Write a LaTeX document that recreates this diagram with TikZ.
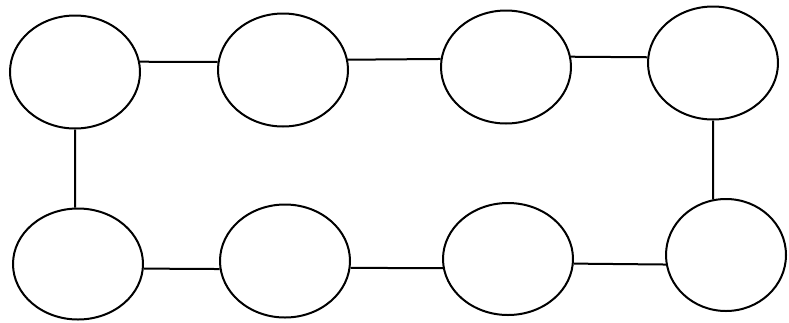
\documentclass[tikz,border=0pt]{standalone}
\usetikzlibrary{shapes.geometric}
\begin{document}
\begin{tikzpicture}[x=1pt,y=-1pt,
  oval/.style={draw,ellipse,line width=2pt,inner sep=0pt,minimum width=130pt,minimum height=113pt},
  link/.style={line width=2pt}]
\useasboundingbox (0,0) rectangle (789,322);
\node[oval] (e1) at (75,72) {};
\node[oval] (e2) at (283,70) {};
\node[oval] (e3) at (506,67) {};
\node[oval] (e4) at (713,63) {};
\node[oval,minimum height=111pt] (e5) at (78,264) {};
\node[oval] (e6) at (285,261) {};
\node[oval,minimum height=112pt] (e7) at (508,259) {};
\node[oval,minimum width=120pt,minimum height=112pt] (e8) at (726,255) {};
\draw[link] (e1.9) -- (e2.173);
\draw[link] (e2.9) -- (e3.173);
\draw[link] (e3.9) -- (e4.175);
\draw[link] (e5.356) -- (e6.187);
\draw[link] (e6.354) -- (e7.188);
\draw[link] (e7.356) -- (e8.189);
\draw[link] (e1.south) -- (e5.93);
\draw[link] (e4.south) -- (e8.103);
\end{tikzpicture}
\end{document}
